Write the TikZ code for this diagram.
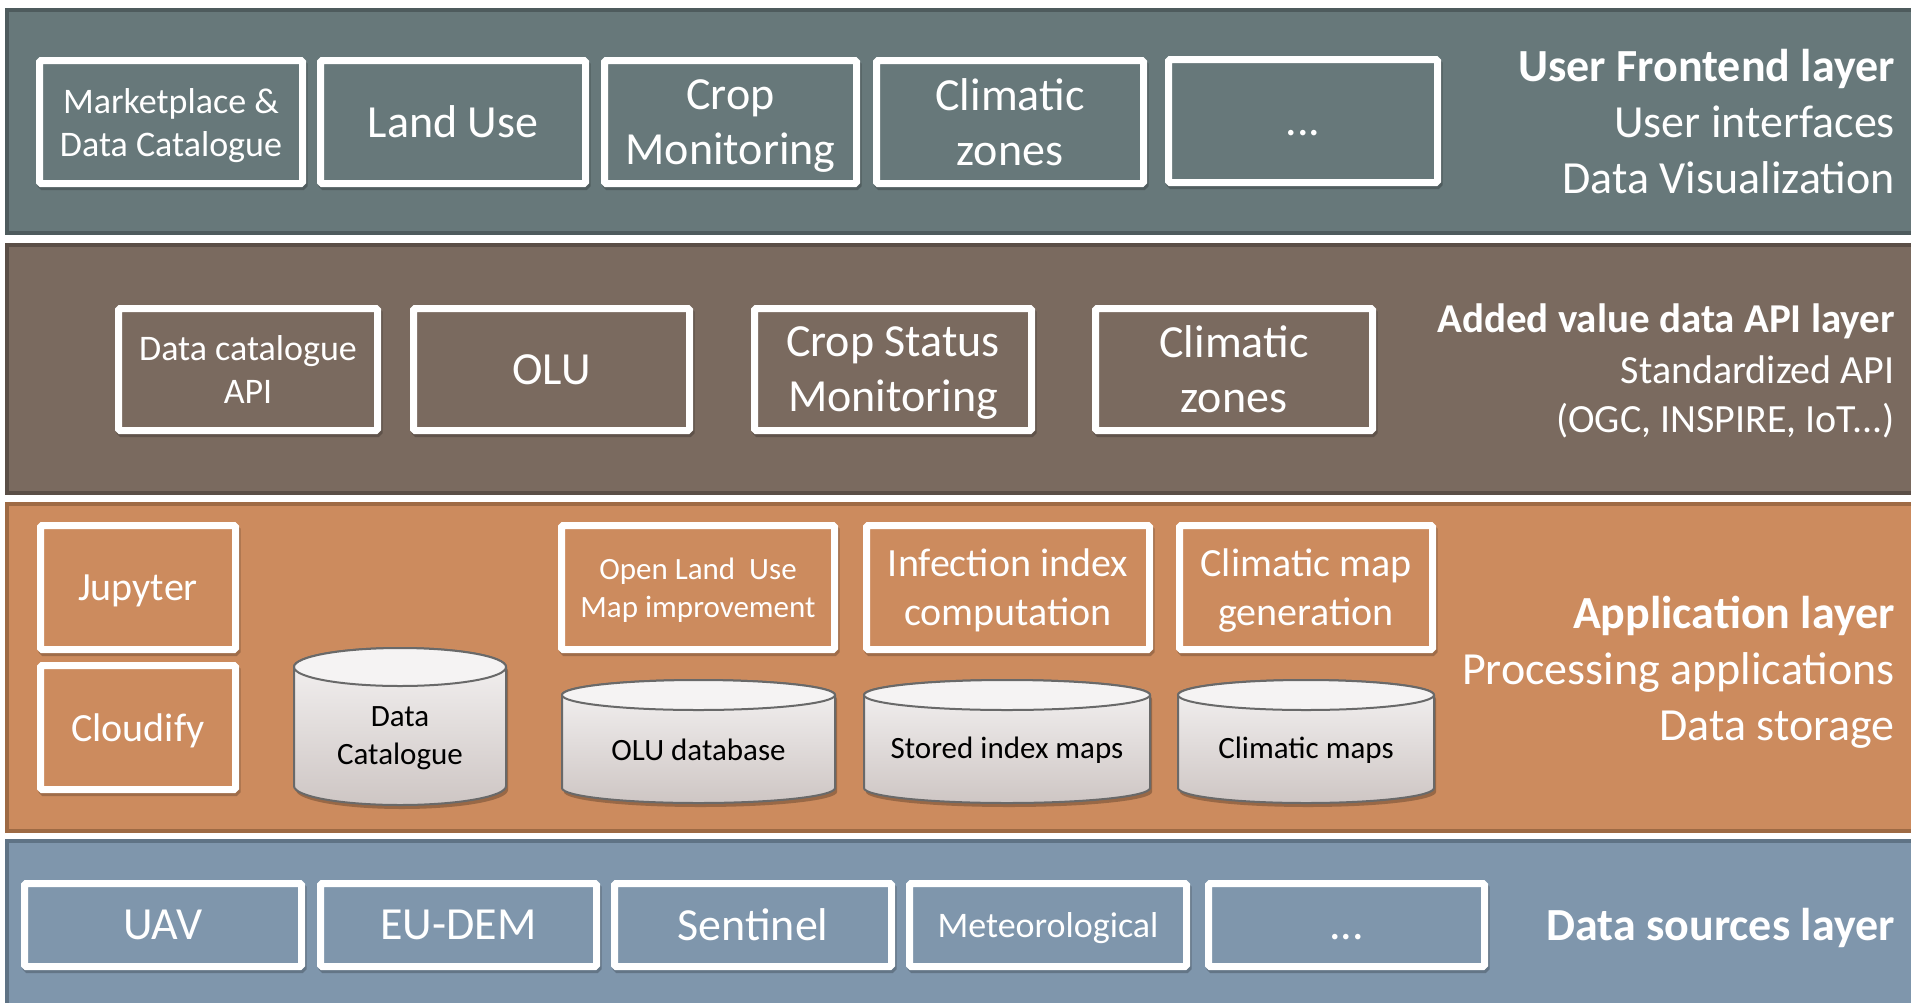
\documentclass[tikz,border=0pt]{standalone}
\usepackage{fontspec}
\setmainfont{Carlito}
\definecolor{lone}{RGB}{103,120,122}
\definecolor{loneb}{RGB}{78,91,93}
\definecolor{ltwo}{RGB}{122,106,95}
\definecolor{ltwob}{RGB}{90,78,70}
\definecolor{lthree}{RGB}{204,139,94}
\definecolor{lthreeb}{RGB}{158,106,68}
\definecolor{lfour}{RGB}{127,150,172}
\definecolor{lfourb}{RGB}{95,115,133}
\definecolor{cyltop}{RGB}{245,243,243}
\definecolor{cylbot}{RGB}{206,198,196}
\definecolor{cylline}{RGB}{105,105,105}
\newcommand\mycyl[5]{%
  \pgfmathsetmacro\rx{(#2-#1)/2}%
  \pgfmathsetmacro\cx{(#1+#2)/2}%
  \pgfmathsetmacro\ytc{#3+#5}%
  \pgfmathsetmacro\ybc{#4-#5}%
  \fill[black,opacity=0.25,transform canvas={xshift=2pt,yshift=-4pt}] (#1,\ytc) -- (#1,\ybc) arc[start angle=180,end angle=0,x radius=\rx,y radius=#5] -- (#2,\ytc) arc[start angle=0,end angle=-180,x radius=\rx,y radius=#5] -- cycle;
  \draw[cylline,line width=2pt,top color=cyltop,bottom color=cylbot] (#1,\ytc) -- (#1,\ybc) arc[start angle=180,end angle=0,x radius=\rx,y radius=#5] -- (#2,\ytc) arc[start angle=0,end angle=-180,x radius=\rx,y radius=#5] -- cycle;
  \draw[cylline,line width=2pt,fill=cyltop] (\cx,\ytc) ellipse[x radius=\rx,y radius=#5];
}
\begin{document}
\begin{tikzpicture}[x=1pt,y=-1pt,
  tfs/.style={font=\fontsize{46}{55}\selectfont},
  tfo/.style={font=\fontsize{40}{49}\selectfont},
  tts/.style={font=\fontsize{36}{43}\selectfont},
  ttl/.style={font=\fontsize{31}{38}\selectfont},
  ubox/.style={draw=white, fill=#1, line width=7pt, text=white, align=center, inner sep=0pt, text depth=0pt, rounded corners=1.5pt,
    preaction={draw=black, draw opacity=0.22, line width=7pt, transform canvas={xshift=1.5pt,yshift=-3pt}}},
  layerbox/.style={line width=4pt},
  ltext/.style={text=white, anchor=base east, inner sep=0pt},
  ctext/.style={text=black, align=center, inner sep=0pt, font=\fontsize{31}{38}\selectfont},
]
\useasboundingbox (0,0) rectangle (1911,1002);
\clip (0,0) rectangle (1911,1002);
% layers
\draw[layerbox, draw=loneb, fill=lone] (7,10) rectangle (1940,233);
\draw[layerbox, draw=ltwob, fill=ltwo] (7,245) rectangle (1940,493);
\draw[layerbox, draw=lthreeb, fill=lthree] (7,504) rectangle (1940,831);
\draw[layerbox, draw=lfourb, fill=lfour] (7,841) rectangle (1940,1012);

% layer 1 boxes
\node[ubox=lone, tts, minimum width=263pt, minimum height=123pt] (mkt) at (171,122) {Marketplace \&\\Data Catalogue};
\node[ubox=lone, tfs, minimum width=265pt, minimum height=123pt] (land) at (453,122) {Land Use};
\node[ubox=lone, tfs, minimum width=252pt, minimum height=123pt] (crop) at (730.5,122) {Crop\\Monitoring};
\node[ubox=lone, tfs, minimum width=267pt, minimum height=123pt] (clima) at (1010,122) {Climatic\\zones};
\node[ubox=lone, tfs, minimum width=269pt, minimum height=123pt] (dotsa) at (1303,121) {\vphantom{L}...};
\node[ltext, font=\fontsize{46}{55}\selectfont\bfseries] (lonea) at (1895,81) {User Frontend layer};
\node[ltext, tfs] (loneb1) at (1895,137) {User interfaces};
\node[ltext, tfs] (lonec) at (1895,193) {Data Visualization};

% layer 2 boxes
\node[ubox=ltwo, tts, minimum width=259pt, minimum height=122pt] (dcapi) at (248,369.5) {Data catalogue\\API};
\node[ubox=ltwo, tfs, minimum width=276pt, minimum height=122pt] (olu) at (551.5,369.5) {OLU};
\node[ubox=ltwo, tfs, minimum width=277pt, minimum height=122pt] (csm) at (893,369.5) {Crop Status\\Monitoring};
\node[ubox=ltwo, tfs, minimum width=277pt, minimum height=122pt] (climb) at (1234,369.5) {Climatic\\zones};
\node[ltext, font=\fontsize{41}{49}\selectfont\bfseries] (ltwoa) at (1895,332) {Added value data API layer};
\node[ltext, tfo] (ltwob1) at (1895,383) {Standardized API};
\node[ltext, tfo] (ltwoc) at (1895,432) {(OGC, INSPIRE, IoT.{}.{}.)};

% layer 3 boxes
\node[ubox=lthree, tfo, minimum width=195pt, minimum height=124pt] (jup) at (138,587.5) {Jupyter};
\node[ubox=lthree, tfo, minimum width=195pt, minimum height=124pt] (cloud) at (138,727.5) {Cloudify};
\node[ubox=lthree, ttl, minimum width=273pt, minimum height=124pt] (olumi) at (698,587.5) {Open Land\ \ Use\\Map improvement};
\node[ubox=lthree, tfo, minimum width=283pt, minimum height=124pt] (inf) at (1008,587.5) {Infection index\\computation};
\node[ubox=lthree, tfo, minimum width=253pt, minimum height=124pt] (cmg) at (1306,587.5) {Climatic map\\generation};
\mycyl{294}{506}{648}{805}{19}
\mycyl{562}{835}{680}{803}{15}
\mycyl{864}{1150}{680}{803}{15}
\mycyl{1178}{1434}{680}{803}{15}
\node[ctext] (dcat) at (400,738) {Data\\Catalogue};
\node[ctext] (oludb) at (698.5,750) {OLU database};
\node[ctext] (sim) at (1007,750) {Stored index maps};
\node[ctext] (cmaps) at (1306,750) {Climatic maps};
\node[ltext, font=\fontsize{46}{55}\selectfont\bfseries] (lthreea) at (1895,628) {Application layer};
\node[ltext, tfs] (lthreeb1) at (1895,684) {Processing applications};
\node[ltext, tfs] (lthreec) at (1895,740) {Data storage};

% layer 4 boxes
\node[ubox=lfour, tfs, minimum width=277pt, minimum height=83pt] (uav) at (163,925) {UAV};
\node[ubox=lfour, tfs, minimum width=276pt, minimum height=83pt] (eudem) at (458.5,925) {EU-DEM};
\node[ubox=lfour, tfs, minimum width=277pt, minimum height=83pt] (sent) at (753,925) {Sentinel};
\node[ubox=lfour, tts, minimum width=277pt, minimum height=83pt] (met) at (1048,925) {Meteorological};
\node[ubox=lfour, tfs, minimum width=276pt, minimum height=83pt] (dotsb) at (1346.5,925) {\vphantom{L}...};
\node[ltext, font=\fontsize{46}{55}\selectfont\bfseries] (lfoura) at (1895,940) {Data sources layer};
\end{tikzpicture}
\end{document}
